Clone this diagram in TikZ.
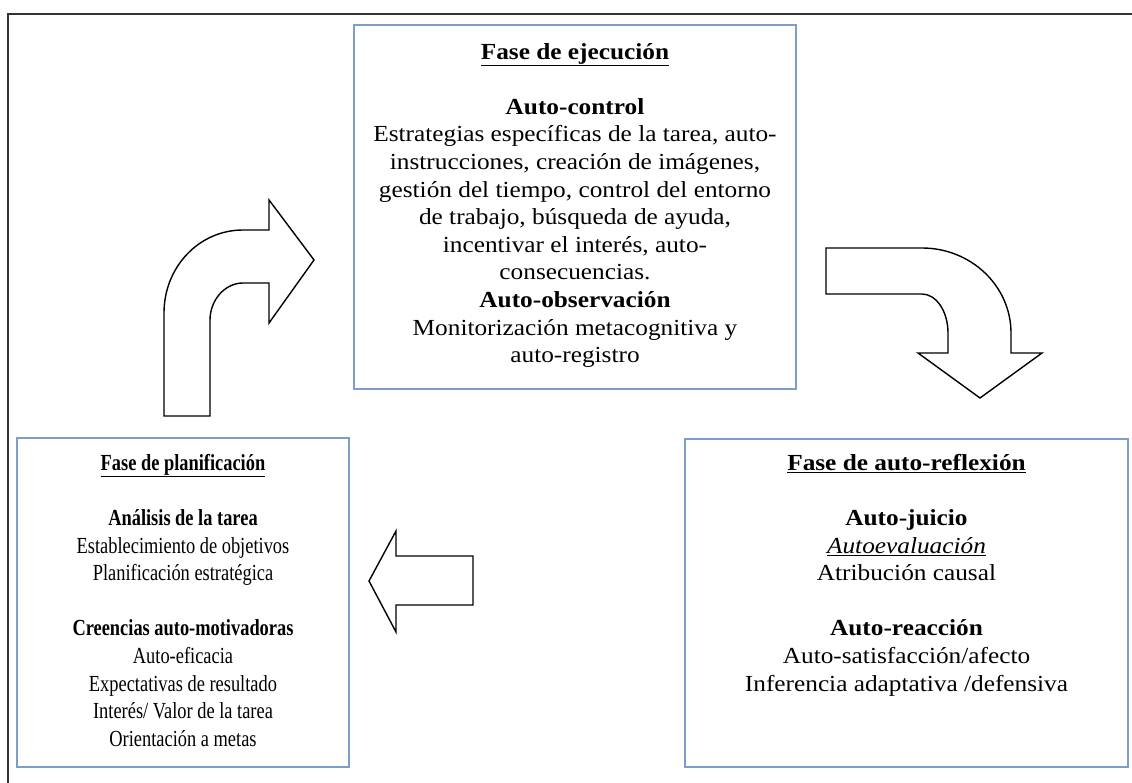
\documentclass[tikz,border=0pt]{standalone}
\usepackage{fontspec}
\setmainfont{Liberation Serif}[FakeStretch=1.1]
\newfontfamily\narrowfont{Liberation Serif}[FakeStretch=0.8]
\definecolor{boxblue}{RGB}{125,157,205}
\tikzset{
  phasebox/.style={draw=boxblue, line width=1.6pt, inner sep=0pt},
  blockarrow/.style={draw=black, fill=white, line width=1.4pt, line join=miter},
  frameline/.style={draw=black!80, line width=1.3pt},
  boxtext/.style={align=center, inner sep=0pt, anchor=north, font=\fontsize{23}{27.6}\selectfont},
}
\begin{document}
\begin{tikzpicture}[x=1pt,y=-1pt]
\useasboundingbox (0,0) rectangle (1132,783);
% outer frame (only top and left visible)
\coordinate (ftl) at (8,14);
\coordinate (ftr) at (1132,14);
\coordinate (fbl) at (8,783);
\draw[frameline] (ftr) -- (ftl) -- (fbl);

% boxes
\node[phasebox, minimum width=442pt, minimum height=364pt] (exec) at (575,207) {};
\node[phasebox, minimum width=332pt, minimum height=329pt] (plan) at (183,602.5) {};
\node[phasebox, minimum width=443pt, minimum height=328pt] (refl) at (906.5,603) {};

% texts
\node[boxtext] (exectext) at (575,43) {%
\textbf{\underline{Fase de ejecución}}\\[27.6pt]
\textbf{Auto-control}\\
Estrategias específicas de la tarea, auto-\\
instrucciones, creación de imágenes,\\
gestión del tiempo, control del entorno\\
de trabajo, búsqueda de ayuda,\\
incentivar el interés, auto-\\
consecuencias.\\
\textbf{Auto-observación}\\
Monitorización metacognitiva y\\
auto-registro};

\node[boxtext, font=\narrowfont\fontsize{23}{27.6}\selectfont] (plantext) at (183,454) {%
\textbf{\underline{Fase de planificación}}\\[27.6pt]
\textbf{Análisis de la tarea}\\
Establecimiento de objetivos\\
Planificación estratégica\\[27.6pt]
\textbf{Creencias auto-motivadoras}\\
Auto-eficacia\\
Expectativas de resultado\\
Interés/ Valor de la tarea\\
Orientación a metas};

\node[boxtext] (refltext) at (906.5,454) {%
\textbf{\underline{Fase de auto-reflexión}}\\[27.6pt]
\textbf{Auto-juicio}\\
\underline{\textit{Autoevaluación}}\\
Atribución causal\\[27.6pt]
\textbf{Auto-reacción}\\
Auto-satisfacción/afecto\\
Inferencia adaptativa /defensiva};

% curved arrow up-right (planning -> execution)
\draw[blockarrow] (164,416) -- (164,313)
  .. controls (164,267) and (199,230) .. (243,230)
  -- (269,230) -- (269,200) -- (314,260) -- (269,323) -- (269,283) -- (243,283)
  .. controls (225,283) and (210,300) .. (210,320)
  -- (210,416) -- cycle;

% curved arrow right-down (execution -> reflection)
\draw[blockarrow] (826,248) -- (922,248)
  .. controls (971,248) and (1011,286) .. (1011,333)
  -- (1011,353) -- (1042,353) -- (980,398) -- (918,353) -- (948,353) -- (948,333)
  .. controls (948,311) and (936,294) .. (922,294)
  -- (826,294) -- cycle;

% straight arrow left (reflection -> planning)
\draw[blockarrow] (473,556) -- (396,556) -- (396,531) -- (369,581) -- (396,632) -- (396,605) -- (473,605) -- cycle;
\end{tikzpicture}
\end{document}
